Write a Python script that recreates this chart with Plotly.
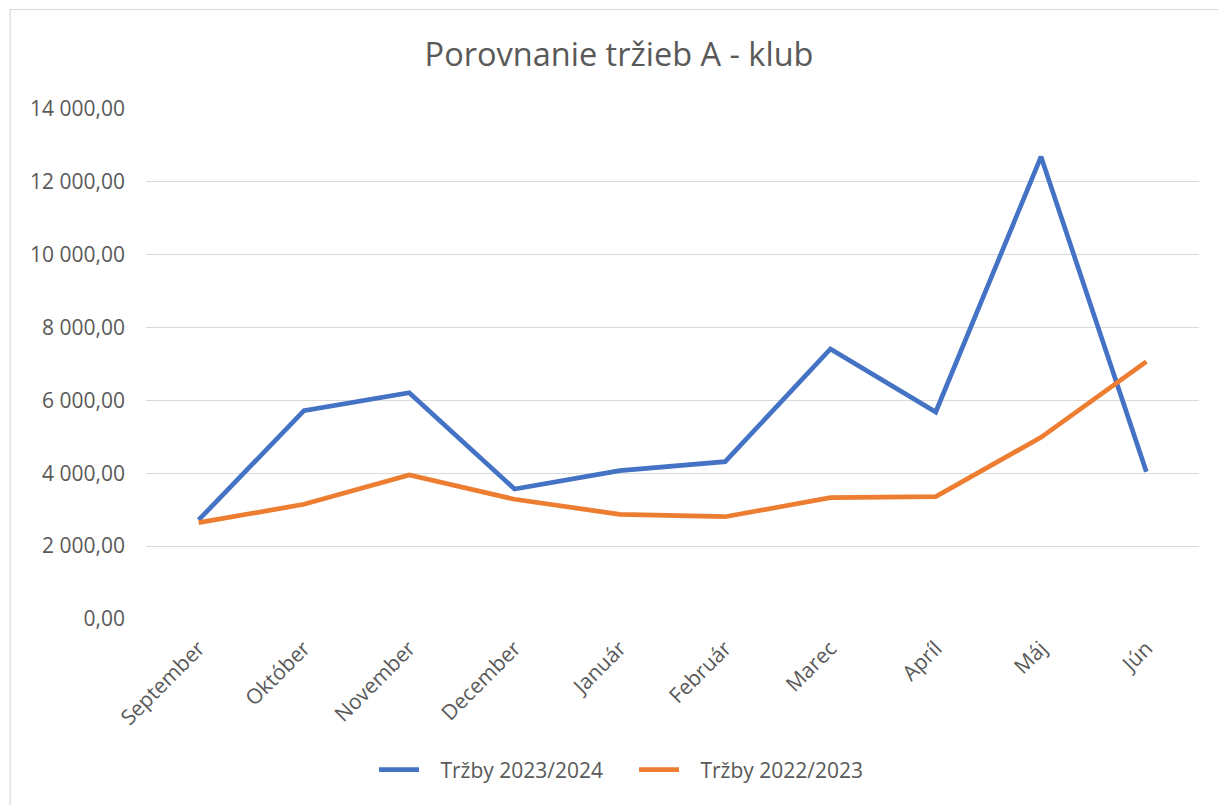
import plotly.graph_objects as go

months = ["September", "Október", "November", "December", "Január", "Február",
          "Marec", "Apríl", "Máj", "Jún"]
trzby_2023_2024 = [2718, 5718, 6212, 3568, 4071, 4318, 7412, 5682, 12690, 4044]
trzby_2022_2023 = [2644, 3149, 3953, 3286, 2874, 2808, 3330, 3358, 4987, 7064]
series_names = ["Tržby 2023/2024", "Tržby 2022/2023"]
y_ticks = [0, 2000, 4000, 6000, 8000, 10000, 12000, 14000]

# page body has an 8px margin; work in screen pixels and convert
OFF = 8
W, H = 1226 - OFF, 805 - OFF
PL, PR, PT, PB = 145.5, 1199.5, 109, 619   # plot area in screen px
L, R, T, B = PL - OFF, W - (PR - OFF), PT - OFF, H - (PB - OFF)
pw, ph = W - L - R, H - T - B

def px_x(p):
    return (p - PL) / pw

def px_y(p):
    return (PB - p) / ph

PAD = "\u00a0\u00a0\u00a0"

fig = go.Figure()
fig.add_trace(go.Scatter(x=months, y=trzby_2023_2024, mode="lines", name=PAD + series_names[0],
                         line=dict(color="#4472C4", width=4.7)))
fig.add_trace(go.Scatter(x=months, y=trzby_2022_2023, mode="lines", name=PAD + series_names[1],
                         line=dict(color="#ED7D31", width=4.7)))

font_fam = "Open Sans, Liberation Sans, sans-serif"
fig.update_layout(
    width=W, height=H,
    margin=dict(l=L, r=R, t=T, b=B, autoexpand=False),
    paper_bgcolor="white", plot_bgcolor="white",
    separators=", ",
    font=dict(family=font_fam, color="#595959"),
    title=dict(text="Porovnanie tržieb A - klub", x=px_x(619), xanchor="center", xref="paper",
               y=1 - (55 - OFF) / H, yanchor="middle",
               font=dict(size=32.5, color="#595959", family=font_fam)),
    showlegend=True,
    legend=dict(orientation="h", x=px_x(634), xanchor="center", y=px_y(770), yanchor="middle",
                font=dict(size=21, color="#595959"), itemwidth=40, traceorder="normal",
                entrywidth=205, entrywidthmode="pixels"),
    xaxis=dict(type="category", showgrid=False, zeroline=False, showline=False,
               ticks="", tickangle=-45, tickfont=dict(size=21, color="#595959"),
               ticklabelstandoff=12,
               range=[-0.5, len(months) - 0.5]),
    yaxis=dict(range=[0, 14000], tickvals=y_ticks, tickformat=",.2f",
               showgrid=True, gridcolor="#D9D9D9", gridwidth=1.3, zeroline=False,
               showline=False, ticks="", ticklen=0, ticklabelstandoff=20,
               tickfont=dict(size=21, color="#595959")),
    shapes=[dict(type="rect", xref="paper", yref="paper",
                 x0=px_x(9.5), x1=px_x(1240), y0=px_y(820), y1=px_y(9.5),
                 line=dict(color="#D9D9D9", width=1.2), fillcolor="rgba(0,0,0,0)",
                 layer="below")],
)
fig.write_html("out.html")
